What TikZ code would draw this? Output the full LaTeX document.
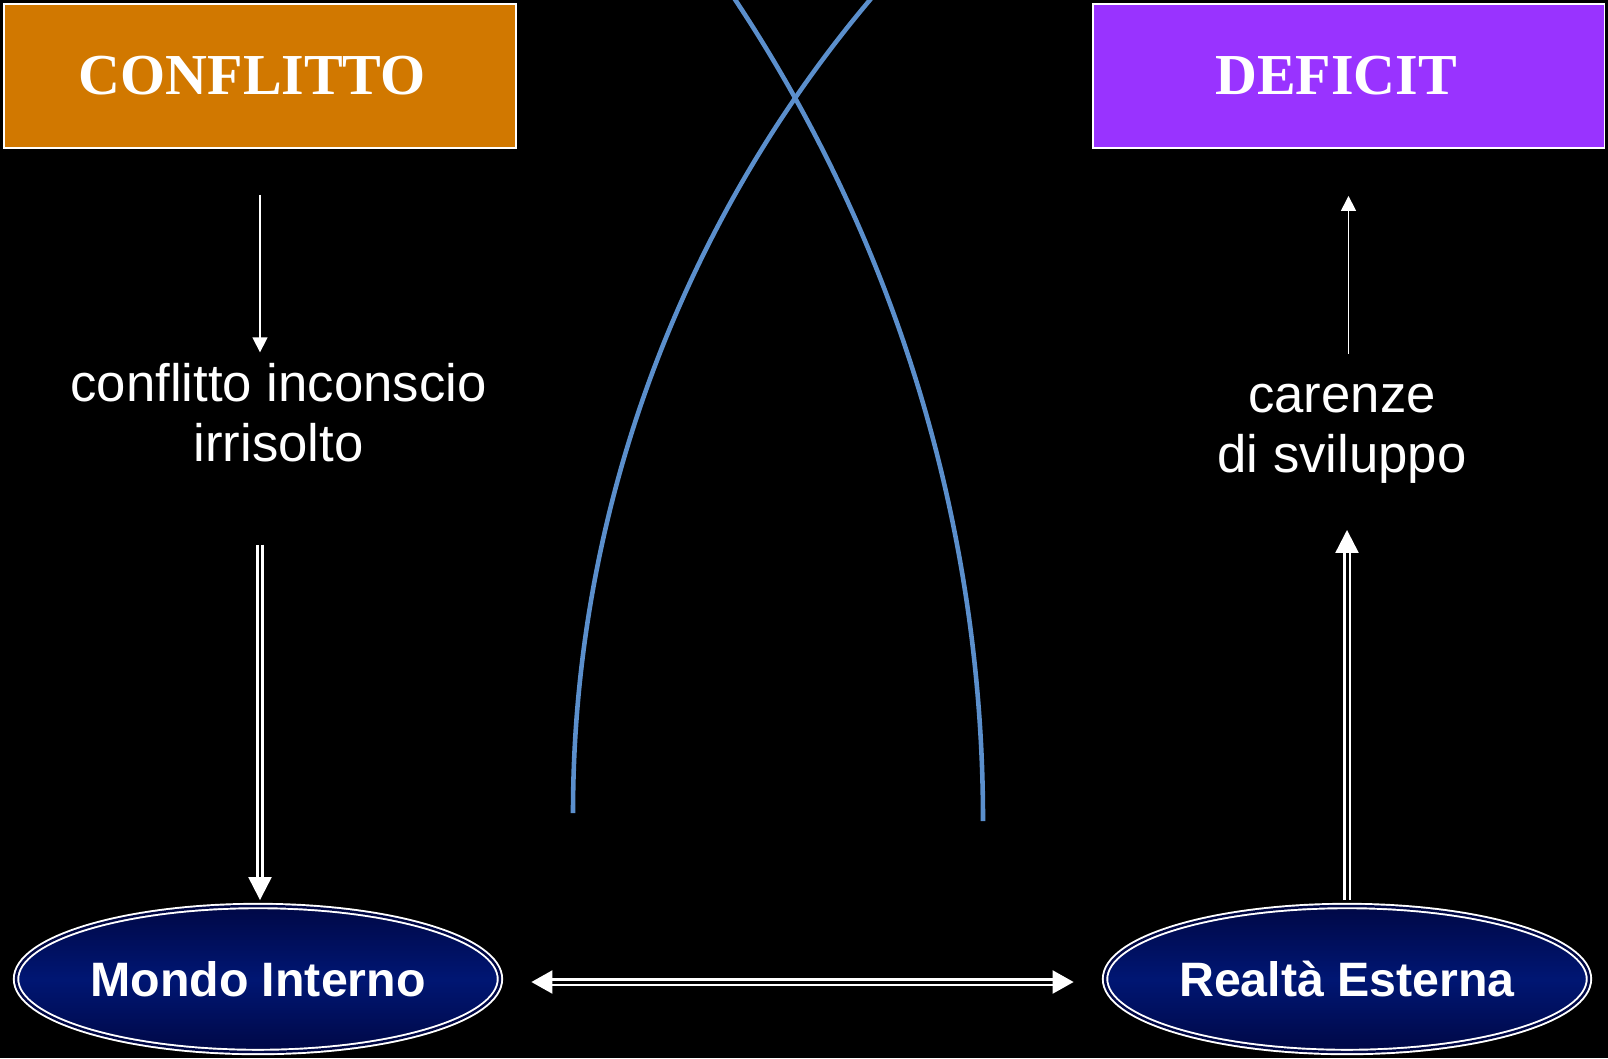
\documentclass[tikz,border=0pt]{standalone}
\usepackage{fontspec}
\setmainfont{Liberation Sans}[Ligatures=CommonOff]
\newfontfamily\titlefont{Liberation Serif}
\usetikzlibrary{shapes.geometric,arrows.meta,positioning}

\definecolor{confl}{RGB}{209,120,0}
\definecolor{defic}{RGB}{153,51,255}
\definecolor{arcblue}{RGB}{91,143,204}
\definecolor{navydark}{RGB}{0,8,70}
\definecolor{navylight}{RGB}{0,22,115}

\tikzset{
  titlebox/.style={draw=white, line width=1.1pt, minimum width=10.24cm, minimum height=2.88cm,
    inner sep=0pt, text=white, font=\titlefont\fontsize{33}{36}\selectfont\bfseries},
  plain/.style={text=white, align=center, inner sep=0pt, font=\fontsize{30}{34.1}\selectfont},
  world/.style={ellipse, draw=white, double=navydark, line width=1.1pt, double distance=1.4pt,
    top color=navydark, bottom color=navydark, middle color=navylight,
    minimum width=9.68cm, minimum height=2.92cm, inner sep=0pt, text=white,
    font=\fontsize{27.5}{30}\selectfont\bfseries},
  thinarrow/.style={white, line width=0.85pt, -{Triangle[length=0.3cm,width=0.3cm]}},
  dbl/.style={draw=white, double=black, line width=1.3pt, double distance=1.7pt,
    -{Triangle[length=0.46cm,width=0.46cm]}},
  dblboth/.style={draw=white, double=black, line width=1.3pt, double distance=1.7pt,
    {Triangle[length=0.42cm,width=0.46cm]}-{Triangle[length=0.42cm,width=0.46cm]}},
  bow/.style={draw=arcblue, line width=2.6pt},
}

\begin{document}
\begin{tikzpicture}[x=0.02cm,y=0.02cm]
\fill[black] (0,0) rectangle (1608,-1058);

% the two crossing arcs
\begin{scope}
\clip (0,0) rectangle (1608,-1058);
\draw[bow] (573,-813) arc[start angle=180, end angle=138, radius=25.24cm];
\draw[bow] (983,-821) arc[start angle=0, end angle=35, radius=29.7cm];
\end{scope}

\node[titlebox, fill=confl] (conflitto) at (260,-76) {\raisebox{-2pt}{CONFLITTO}\kern0.31cm};
\node[titlebox, fill=defic] (deficit) at (1348.5,-76) {\raisebox{-2pt}{DEFICIT}\kern0.5cm};

\node[plain] (inconscio) at (278.5,-413) {conflitto inconscio\\irrisolto};
\node[plain] (carenze) at (1342,-434) {carenze\\di sviluppo};

\node[world] (mondo) at (258,-979) {Mondo Interno};
\node[world] (realta) at (1347,-979) {Realtà Esterna};

% connectors
\draw[thinarrow, shorten <=0.92cm, shorten >=0.22cm] (conflitto.south) -- (conflitto.south |- inconscio.north);
\draw[dbl, shorten <=1.64cm, shorten >=0.1cm] ([xshift=0.04cm]mondo.north |- inconscio.south) -- ([xshift=0.04cm]mondo.north);
\draw[dbl, shorten >=0.92cm, shorten <=0.1cm] (realta.north) -- (realta.north |- carenze.south);
\draw[thinarrow, shorten <=0.61cm, shorten >=0.94cm] (deficit.south |- carenze.north) -- (deficit.south);
\draw[dblboth, shorten <=0.61cm, shorten >=0.61cm] ([yshift=-0.06cm]mondo.east) -- ([yshift=-0.06cm]realta.west);
\end{tikzpicture}
\end{document}
